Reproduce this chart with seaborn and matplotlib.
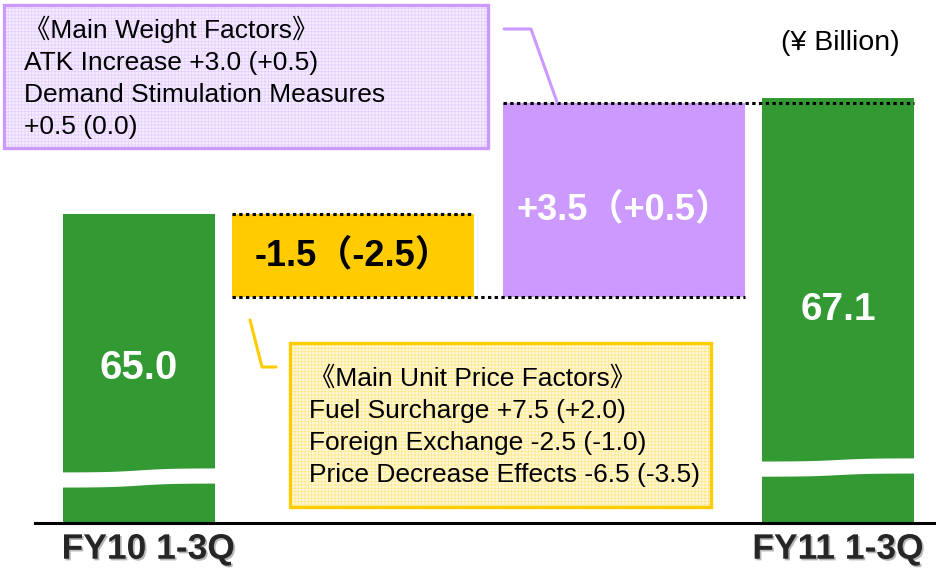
import numpy as np
import pandas as pd
import seaborn as sns
import matplotlib.pyplot as plt
import matplotlib.transforms as mtransforms
from matplotlib.patches import Rectangle
from matplotlib.lines import Line2D
import matplotlib.patheffects as pe

# ---------------- data ----------------
total_labels = ["FY10 1-3Q", "FY11 1-3Q"]
total_values = [65.0, 67.1]
change_values = [-1.5, 3.5]
change_texts = ["-1.5（-2.5）", "+3.5（+0.5）"]
unit_text = "(¥ Billion)"
weight_note = ["《Main Weight Factors》",
               "ATK Increase +3.0 (+0.5)",
               "Demand Stimulation Measures",
               "+0.5 (0.0)"]
price_note = ["《Main Unit Price Factors》",
              "Fuel Surcharge +7.5 (+2.0)",
              "Foreign Exchange -2.5 (-1.0)",
              "Price Decrease Effects -6.5 (-3.5)"]

# ---------------- style ----------------
GREEN = "#339933"
ORANGE = "#FFCC00"
PURPLE = "#CC99FF"
sns.set_theme(style="white")
plt.rcParams["font.family"] = ["Liberation Sans", "Noto Sans CJK JP", "DejaVu Sans"]
plt.rcParams["hatch.linewidth"] = 0.6

W, H = 937, 573
fig = plt.figure(figsize=(W / 100, H / 100), dpi=100)
ax = fig.add_axes([35 / W, 50 / H, 1 - 35 / W, 1 - 50 / H])

# layout (category positions / widths)
xpos = [0.0, 0.918, 2.082, 3.0]
total_width = 0.652
step_width = 1.039
ylo, yhi = 59.42, 68.86

# totals via seaborn
tot_df = pd.DataFrame({"pos": [xpos[0], xpos[3]], "value": total_values})
sns.barplot(data=tot_df, x="pos", y="value", native_scale=True,
            width=total_width / (xpos[3] - xpos[0]), color=GREEN,
            saturation=1, errorbar=None, linewidth=0, edgecolor="none",
            ax=ax, zorder=2)

# floating change bars
step_colors = [ORANGE, PURPLE]
level = total_values[0]
levels = [level]
for i, chg in enumerate(change_values):
    bottom = level + min(chg, 0)
    ax.bar(xpos[i + 1], abs(chg), width=step_width, bottom=bottom,
           color=step_colors[i], linewidth=0, zorder=2)
    level = level + chg
    levels.append(level)

# dotted connectors
dot_kw = dict(color="black", linewidth=2.2, linestyle=(0, (1.1, 1.1)), zorder=4)
ax.hlines(levels[0], xpos[1] - step_width / 2, xpos[1] + step_width / 2, **dot_kw)
ax.hlines(levels[1], xpos[1] - step_width / 2, xpos[2] + step_width / 2, **dot_kw)
ax.hlines(levels[2], xpos[2] - step_width / 2, xpos[3] + total_width / 2, **dot_kw)

# axis-break waves on total bars
blend = mtransforms.blended_transform_factory(ax.transData, ax.transAxes)
for xc, base, amp in [(xpos[0], 0.087, 0.0038), (xpos[3], 0.107, 0.0030)]:
    xs = np.linspace(xc - total_width / 2 - 0.01, xc + total_width / 2 + 0.01, 200)
    t = (xs - xs[0]) / (xs[-1] - xs[0])
    yc = base + amp * np.tanh((t - 0.5) * 5) / np.tanh(2.5)
    ax.fill_between(xs, yc - 0.0145, yc + 0.0145, transform=blend,
                    color="white", linewidth=0, zorder=3)

# value labels
ax.text(xpos[0], (ylo + total_values[0]) / 2, f"{total_values[0]:.1f}",
        ha="center", va="center", color="white", fontsize=29, fontweight="bold", zorder=5)
ax.text(xpos[3], (ylo + total_values[1]) / 2, f"{total_values[1]:.1f}",
        ha="center", va="center", color="white", fontsize=28, fontweight="bold", zorder=5)
ax.text(xpos[1], levels[0] + change_values[0] / 2, change_texts[0],
        ha="center", va="center", color="black", fontsize=26, fontweight="bold", zorder=5)
ax.text(xpos[2], levels[1] + change_values[1] * 0.45, change_texts[1],
        ha="center", va="center", color="white", fontsize=26, fontweight="bold", zorder=5)

# axes cosmetics
ax.set_xlim(-0.4464, 3.4249)
ax.set_ylim(ylo, yhi)
ax.set_xlabel("")
ax.set_ylabel("")
ax.set_yticks([])
ax.set_xticks([xpos[0] + 0.04, xpos[3]])
ax.set_xticklabels(total_labels, fontsize=25.5, fontweight="bold",
                   path_effects=[pe.withSimplePatchShadow(offset=(1.2, -1.2), shadow_rgbFace="#888888", alpha=0.6)])
ax.tick_params(axis="x", length=0, pad=7)
for s in ["top", "left", "right"]:
    ax.spines[s].set_visible(False)
ax.spines["bottom"].set_color("black")
ax.spines["bottom"].set_linewidth(2.2)
ax.patch.set_alpha(0)


# ---------------- annotation boxes (figure pixel coords) ----------------
def fx(x):
    return x / W


def fy(y):
    return 1 - y / H


def note_box(x0, y0, x1, y1, face, grid, edge):
    fig.add_artist(Rectangle((fx(x0), fy(y1)), fx(x1) - fx(x0), fy(y0) - fy(y1),
                             transform=fig.transFigure, facecolor=face,
                             edgecolor=grid, hatch="+++++", linewidth=0, zorder=1))
    fig.add_artist(Rectangle((fx(x0), fy(y1)), fx(x1) - fx(x0), fy(y0) - fy(y1),
                             transform=fig.transFigure, fill=False,
                             edgecolor=edge, linewidth=2.4, zorder=2))


note_box(4, 5, 488, 148, "#F6EEFF", "#E4D0FF", PURPLE)
note_box(290, 343, 711, 507, "#FFF8DA", "#FFE98F", ORANGE)

for i, line in enumerate(weight_note):
    fig.text(fx(24), fy(38 + i * 32), line, ha="left", va="baseline",
             fontsize=19, color="black", zorder=3)
for i, line in enumerate(price_note):
    fig.text(fx(309), fy(386 + i * 32), line, ha="left", va="baseline",
             fontsize=19, color="black", zorder=3)

# leader lines
fig.add_artist(Line2D([fx(504), fx(531), fx(557)], [fy(29), fy(29), fy(102)],
                      transform=fig.transFigure, color=PURPLE, linewidth=2.2, zorder=3))
fig.add_artist(Line2D([fx(250), fx(262), fx(276)], [fy(320), fy(367), fy(367)],
                      transform=fig.transFigure, color=ORANGE, linewidth=2.2, zorder=3))

fig.text(fx(840), fy(43), unit_text, ha="center", va="center", fontsize=20.5, color="black")

fig.savefig("out.png", dpi=100)
